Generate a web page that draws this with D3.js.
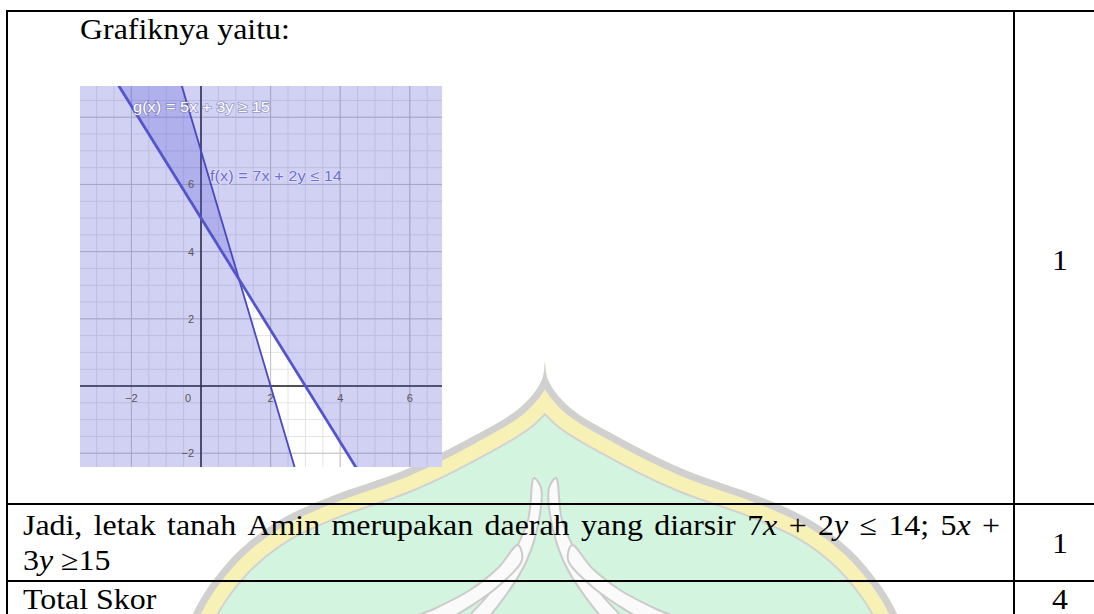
<!DOCTYPE html>
<meta charset="utf-8">
<style>
  body { margin: 0; background: #fff; }
  svg { display: block; }
  .rule { stroke: #000; stroke-width: 2; }
  .cell { font-family: "Liberation Serif", "Times New Roman", "DejaVu Serif", serif; font-size: 29px; fill: #000; }
  .tick { font-family: "Liberation Sans", Arial, sans-serif; font-size: 11px; fill: #555; }
</style>

<svg id="page" width="1094" height="614"></svg>

<script src="https://d3js.org/d3.v7.min.js"></script>
<script>
// a x + b y (op) c
var ineqSteep = [7, 2, 14]   // 7x + 2y <= 14  (shade below)
var ineqFlat = [5, 3, 15]    // 5x + 3y >= 15  (shade above)
var xTicks = [-2, 0, 2, 4, 6]
var yTicks = [-2, 2, 4, 6]
var fnLabels = ["g(x) = 5x + 3y \u2265 15", "f(x) = 7x + 2y \u2264 14"]
var scores = ["1", "1", "4"]
var row2Words = ["Jadi,", "letak", "tanah", "Amin", "merupakan", "daerah", "yang", "diarsir",
                 "7*x*", "+", "2*y*", "\u2264", "14;", "5*x*", "+"]

var stretch = 1.1   // document text is a bit wider than plain Times
var svg = d3.select("#page")
var defs = svg.append("defs")

// ---- watermark (dome logo) ----
var cx = 545
var half = [[360, 0], [380, 3], [407, 24], [437, 73], [470, 140], [497, 215],
            [520, 265], [550, 305], [585, 335], [614, 352], [640, 362]]
var curve = d3.line().curve(d3.curveCatmullRom)
var leftSide = half.slice().reverse().map(function(d) { return [cx - d[1], d[0]] })
var rightSide = half.map(function(d) { return [cx + d[1], d[0]] })
var domePath = curve(leftSide) + curve(rightSide).replace("M", "L") + "Z"

defs.append("clipPath").attr("id", "domeClip").append("path").attr("d", domePath)

var wm = svg.append("g").attr("clip-path", "url(#domeClip)")
wm.append("path").attr("d", domePath).attr("fill", "#d3f4de")
wm.append("path").attr("d", domePath).attr("fill", "none").attr("stroke", "#d2d2d2").attr("stroke-width", 46)
wm.append("path").attr("d", domePath).attr("fill", "none").attr("stroke", "#f8f1b6").attr("stroke-width", 42)
wm.append("path").attr("d", domePath).attr("fill", "none").attr("stroke", "#d0d0d0").attr("stroke-width", 14)

function mirror(p) { return p.map(function(d) { return [2 * cx - d[0], d[1]] }) }
var leaves = [
  [[534, 478], [528, 520], [510, 560], [488, 595], [466, 622], [482, 622], [506, 595], [527, 560], [539, 520], [541, 488]],
  [[518, 545], [498, 568], [470, 590], [436, 608], [404, 622], [440, 622], [474, 604], [502, 583], [522, 560]]
]
var leafLine = d3.line().curve(d3.curveCatmullRomClosed)
leaves.concat(leaves.map(mirror)).forEach(function(p) {
  wm.append("path").attr("d", leafLine(p))
    .attr("fill", "#fafafa").attr("stroke", "#cbcbcb").attr("stroke-width", 2)
})

// ---- graph image ----
var gx0 = 80, gx1 = 442, gy0 = 86, gy1 = 467
var x = d3.scaleLinear().domain([-3.477, 6.925]).range([gx0, gx1])
var y = d3.scaleLinear().domain([-2.41, 8.93]).range([gy1, gy0])

defs.append("clipPath").attr("id", "graphClip").append("rect")
  .attr("x", gx0).attr("y", gy0).attr("width", gx1 - gx0).attr("height", gy1 - gy0)

var g = svg.append("g").attr("clip-path", "url(#graphClip)")
g.append("rect").attr("x", gx0).attr("y", gy0).attr("width", gx1 - gx0).attr("height", gy1 - gy0).attr("fill", "#fff")

// grid
var minorX = d3.range(-3.5, 7.01, 0.5), minorY = d3.range(-2.5, 9.01, 0.5)
var majorX = d3.range(-2, 7, 2), majorY = d3.range(-2, 9, 2)
g.selectAll(".mnx").data(minorX).join("line").attr("x1", x).attr("x2", x).attr("y1", gy0).attr("y2", gy1).attr("stroke", "#e4e4e4")
g.selectAll(".mny").data(minorY).join("line").attr("y1", y).attr("y2", y).attr("x1", gx0).attr("x2", gx1).attr("stroke", "#e4e4e4")
g.selectAll(".mjx").data(majorX).join("line").attr("x1", x).attr("x2", x).attr("y1", gy0).attr("y2", gy1).attr("stroke", "#c2c2c2")
g.selectAll(".mjy").data(majorY).join("line").attr("y1", y).attr("y2", y).attr("x1", gx0).attr("x2", gx1).attr("stroke", "#c2c2c2")

// axes
g.append("line").attr("x1", x(0)).attr("x2", x(0)).attr("y1", gy0).attr("y2", gy1).attr("stroke", "#222").attr("stroke-width", 1.6)
g.append("line").attr("y1", y(0)).attr("y2", y(0)).attr("x1", gx0).attr("x2", gx1).attr("stroke", "#222").attr("stroke-width", 1.6)

// shaded half planes
var xd = x.domain()
function yOn(c, xv) { return (c[2] - c[0] * xv) / c[1] }
function halfPlane(c, below) {
  var far = below ? -1000 : 1000
  return [[xd[0], yOn(c, xd[0])], [xd[1], yOn(c, xd[1])], [xd[1], far], [xd[0], far]]
}
var poly = d3.line().x(function(d) { return x(d[0]) }).y(function(d) { return y(d[1]) })
g.append("path").attr("d", poly(halfPlane(ineqSteep, true)) + "Z").attr("fill", "#5a5ad6").attr("fill-opacity", 0.28)
g.append("path").attr("d", poly(halfPlane(ineqFlat, false)) + "Z").attr("fill", "#5a5ad6").attr("fill-opacity", 0.28)

// boundary lines
g.append("path").attr("d", poly([[xd[0], yOn(ineqSteep, xd[0])], [xd[1], yOn(ineqSteep, xd[1])]]))
  .attr("stroke", "#4848c0").attr("stroke-width", 1.8).attr("fill", "none")
g.append("path").attr("d", poly([[xd[0], yOn(ineqFlat, xd[0])], [xd[1], yOn(ineqFlat, xd[1])]]))
  .attr("stroke", "#5454cc").attr("stroke-width", 2.8).attr("fill", "none")

// tick labels
g.selectAll(".xt").data(xTicks).join("text").attr("class", "tick")
  .attr("x", function(d) { return d === 0 ? x(d) - 13 : x(d) }).attr("y", y(0) + 16)
  .attr("text-anchor", "middle").text(function(d) { return d < 0 ? "\u2212" + (-d) : d })
g.selectAll(".yt").data(yTicks).join("text").attr("class", "tick")
  .attr("x", x(0) - 7).attr("y", function(d) { return y(d) + 4 })
  .attr("text-anchor", "end").text(function(d) { return d < 0 ? "\u2212" + (-d) : d })

// function labels
g.append("text").attr("x", 133).attr("y", 112).attr("font-family", "Liberation Sans, Arial, sans-serif")
  .attr("font-size", 15).attr("textLength", 137).attr("lengthAdjust", "spacingAndGlyphs")
  .attr("fill", "#ffffff").attr("stroke", "#6a6aa8").attr("stroke-width", 1.6)
  .attr("stroke-opacity", 0.55).attr("paint-order", "stroke").text(fnLabels[0])
g.append("text").attr("x", 210).attr("y", 181).attr("font-family", "Liberation Sans, Arial, sans-serif")
  .attr("font-size", 15).attr("textLength", 132).attr("lengthAdjust", "spacingAndGlyphs")
  .attr("fill", "#6e6ed8").attr("stroke", "#ffffff").attr("stroke-width", 1.2)
  .attr("stroke-opacity", 0.5).attr("paint-order", "stroke").text(fnLabels[1])

// ---- table rules ----
var tbl = svg.append("g")
tbl.append("line").attr("class", "rule").attr("x1", 6).attr("x2", 1094).attr("y1", 11).attr("y2", 11)
tbl.append("line").attr("class", "rule").attr("x1", 7).attr("x2", 7).attr("y1", 10).attr("y2", 614)
tbl.append("line").attr("class", "rule").attr("x1", 1014).attr("x2", 1014).attr("y1", 10).attr("y2", 614)
tbl.append("line").attr("class", "rule").attr("x1", 6).attr("x2", 1094).attr("y1", 504).attr("y2", 504)
tbl.append("line").attr("class", "rule").attr("x1", 6).attr("x2", 1094).attr("y1", 581).attr("y2", 581)

// ---- cell texts ----
function richText(sel, s) {
  s.split("*").forEach(function(part, i) {
    if (part) sel.append("tspan").attr("font-style", i % 2 ? "italic" : null).text(part)
  })
  return sel
}
function cellText(px, py, s, anchor) {
  var t = svg.append("text").attr("class", "cell")
    .attr("transform", "translate(" + px + "," + py + ") scale(" + stretch + ",1)")
  if (anchor) t.attr("text-anchor", anchor)
  return richText(t, s)
}

cellText(80, 39, "Grafiknya yaitu:")

// justified first line of row 2
var left = 23, right = 1000, base = 535
var words = row2Words.map(function(w) { return cellText(0, base, w) })
var widths = words.map(function(t) { return t.node().getComputedTextLength() * stretch })
var gap = (right - left - d3.sum(widths)) / (words.length - 1)
var cur = left
words.forEach(function(t, i) {
  t.attr("transform", "translate(" + cur + "," + base + ") scale(" + stretch + ",1)")
  cur += widths[i] + gap
})

cellText(23, 570, "3*y* \u226515")
cellText(23, 609, "Total Skor")

var scoreBase = [270, 553, 609]
scores.forEach(function(s, i) { cellText(1060, scoreBase[i], s, "middle") })
</script>
